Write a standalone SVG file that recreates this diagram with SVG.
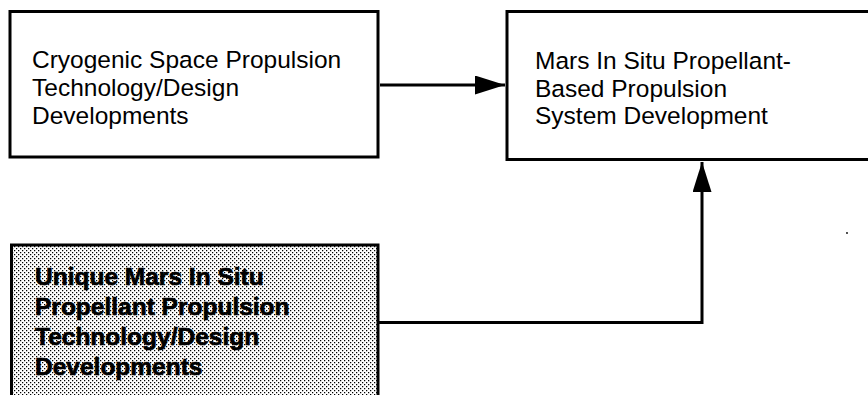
<svg xmlns="http://www.w3.org/2000/svg" width="868" height="395" viewBox="0 0 868 395">
  <style>
    .box { fill: #ffffff; stroke: #000000; stroke-width: 3; }
    .shaded { fill: url(#dots); stroke: #000000; stroke-width: 3; }
    .label { font-family: "Liberation Sans", Arial, Helvetica, sans-serif; font-size: 24.5px; fill: #000000; }
    .bold { font-weight: bold; stroke: #000000; stroke-width: 0.7; }
    .wire { fill: none; stroke: #000000; stroke-width: 3; }
  </style>
  <defs>
    <!-- halftone dot fill for the shaded box -->
    <pattern id="dots" width="4" height="4" patternUnits="userSpaceOnUse">
      <rect width="4" height="4" fill="#ffffff"/>
      <rect x="0" y="0" width="1.25" height="1.25" fill="#000000"/>
      <rect x="2" y="2" width="1.25" height="1.25" fill="#000000"/>
    </pattern>
    <marker id="arrow" viewBox="0 0 30 19" refX="30" refY="9.5" markerWidth="30" markerHeight="19" markerUnits="userSpaceOnUse" orient="auto">
      <path d="M0,0 L30,9.5 L0,19 Z" fill="#000000"/>
    </marker>
  </defs>

  <rect width="868" height="395" fill="#ffffff"/>

  <g id="connectors">
    <path class="wire" d="M380,85 L505,85" marker-end="url(#arrow)"/>
    <path class="wire" d="M379,322.5 L702,322.5 L702,162" marker-end="url(#arrow)"/>
  </g>

  <g id="cryogenic-developments">
    <rect class="box" x="10" y="11.5" width="368" height="145.5"/>
    <text class="label" x="32" y="68">Cryogenic Space Propulsion</text>
    <text class="label" x="32" y="95.5">Technology/Design</text>
    <text class="label" x="32" y="124">Developments</text>
  </g>

  <g id="mars-propulsion-system">
    <rect class="box" x="507" y="11.5" width="380" height="148"/>
    <text class="label" x="535" y="69">Mars In Situ Propellant-</text>
    <text class="label" x="535" y="97">Based Propulsion</text>
    <text class="label" x="535" y="124">System Development</text>
  </g>

  <g id="unique-mars-developments">
    <rect class="shaded" x="11.5" y="245" width="366.5" height="170"/>
    <text class="label bold" x="35" y="285">Unique Mars In Situ</text>
    <text class="label bold" x="35" y="315">Propellant Propulsion</text>
    <text class="label bold" x="35" y="345">Technology/Design</text>
    <text class="label bold" x="35" y="375">Developments</text>
  </g>

  <circle cx="847" cy="233" r="0.9" fill="#000000"/>
</svg>
